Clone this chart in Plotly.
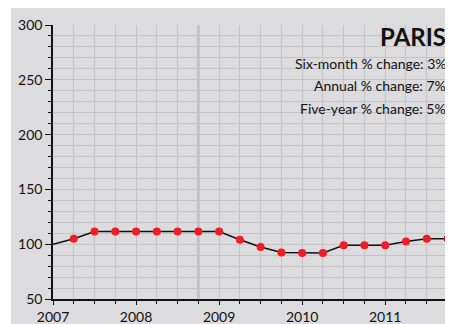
"""
Paris price index chart, quarterly 2007-2011.
"""
import plotly.graph_objects as go

# quarterly points (year fractions) and index values
quarters = [2007.0, 2007.25, 2007.5, 2007.75, 2008.0, 2008.25, 2008.5, 2008.75,
            2009.0, 2009.25, 2009.5, 2009.75, 2010.0, 2010.25, 2010.5, 2010.75,
            2011.0, 2011.25, 2011.5, 2011.75]
index_values = [100, 105, 111.5, 111.5, 111.5, 111.5, 111.5, 111.5,
                111.5, 104, 97.5, 92.5, 92, 92, 99, 99,
                99, 102.5, 105, 105]

year_ticks = [2007, 2008, 2009, 2010, 2011]
y_ticks = [50, 100, 150, 200, 250, 300]

city = "PARIS"
stats = ["Six-month % change: 3%", "Annual % change: 7%", "Five-year % change: 5%"]

BG = '#dcdcde'
GRID = '#c4c4c6'
FONT = 'Lato, Noto Sans, sans-serif'

# page has an 8px body margin, so the figure is drawn 8px in from the corner
OFF = 8
PAGE_W, PAGE_H = 453, 324
W, H = PAGE_W - OFF, PAGE_H - OFF
L, R, T = 53 - OFF, 3, 25 - OFF
B = PAGE_H - 299
pw, ph = W - L - R, H - T - B


def px_x(p):
    # p given in page pixels
    return (p - OFF - L) / pw


def px_y(p):
    return (H - B - (p - OFF)) / ph


fig = go.Figure()

# line (first point has no marker)
fig.add_trace(go.Scatter(
    x=quarters, y=index_values, mode='lines',
    line=dict(color='#111111', width=1.5), hoverinfo='skip',
))
fig.add_trace(go.Scatter(
    x=quarters[1:], y=index_values[1:], mode='markers',
    marker=dict(color='#f21d24', size=8),
))

# grey panel behind everything
fig.add_shape(type='rect', xref='paper', yref='paper', layer='below',
              x0=px_x(11), x1=px_x(PAGE_W + 2), y0=px_y(PAGE_H + 2), y1=px_y(7),
              fillcolor=BG, line_width=0)
# darker vertical marker line
fig.add_shape(type='line', xref='x', yref='paper', layer='below',
              x0=2008.75, x1=2008.75, y0=0, y1=1,
              line=dict(color='#bdbdbf', width=2.5))

fig.add_annotation(text=f"<b>{city}</b>", xref='paper', yref='paper',
                   x=px_x(448), y=px_y(36), xanchor='right', yanchor='middle',
                   showarrow=False, font=dict(size=24, color='#111111', family=FONT))
for i, s in enumerate(stats):
    fig.add_annotation(text=s, xref='paper', yref='paper',
                       x=px_x(448), y=px_y(63 + 22.5 * i), xanchor='right', yanchor='middle',
                       showarrow=False, font=dict(size=14, color='#111111', family=FONT))

fig.update_layout(
    width=W, height=H,
    margin=dict(l=L, r=R, t=T, b=B, pad=0),
    paper_bgcolor='white',
    plot_bgcolor=BG,
    showlegend=False,
    font=dict(family=FONT, size=14, color='#111111'),
)
fig.update_xaxes(
    range=[2007, 2011.78], tickvals=year_ticks, ticktext=[str(y) for y in year_ticks],
    automargin=False,
    showline=True, linecolor='#111111', linewidth=1.5,
    ticks='outside', ticklen=4, tickcolor='#111111',
    showgrid=True, gridcolor=GRID, gridwidth=1, zeroline=False,
    minor=dict(dtick=0.25, tick0=2007, showgrid=True, gridcolor=GRID, ticks='outside',
               ticklen=3, tickcolor='#111111'),
    tickfont=dict(size=14, family=FONT),
)
fig.update_yaxes(
    range=[50, 300], tickvals=y_ticks,
    automargin=False,
    showline=True, linecolor='#111111', linewidth=1.5,
    ticks='outside', ticklen=6, tickcolor='#111111',
    showgrid=True, gridcolor=GRID, gridwidth=1, zeroline=False,
    minor=dict(dtick=10, tick0=50, showgrid=True, gridcolor=GRID, ticks='outside',
               ticklen=3, tickcolor='#111111'),
    tickfont=dict(size=14, family=FONT),
)

fig.write_html("out.html")
